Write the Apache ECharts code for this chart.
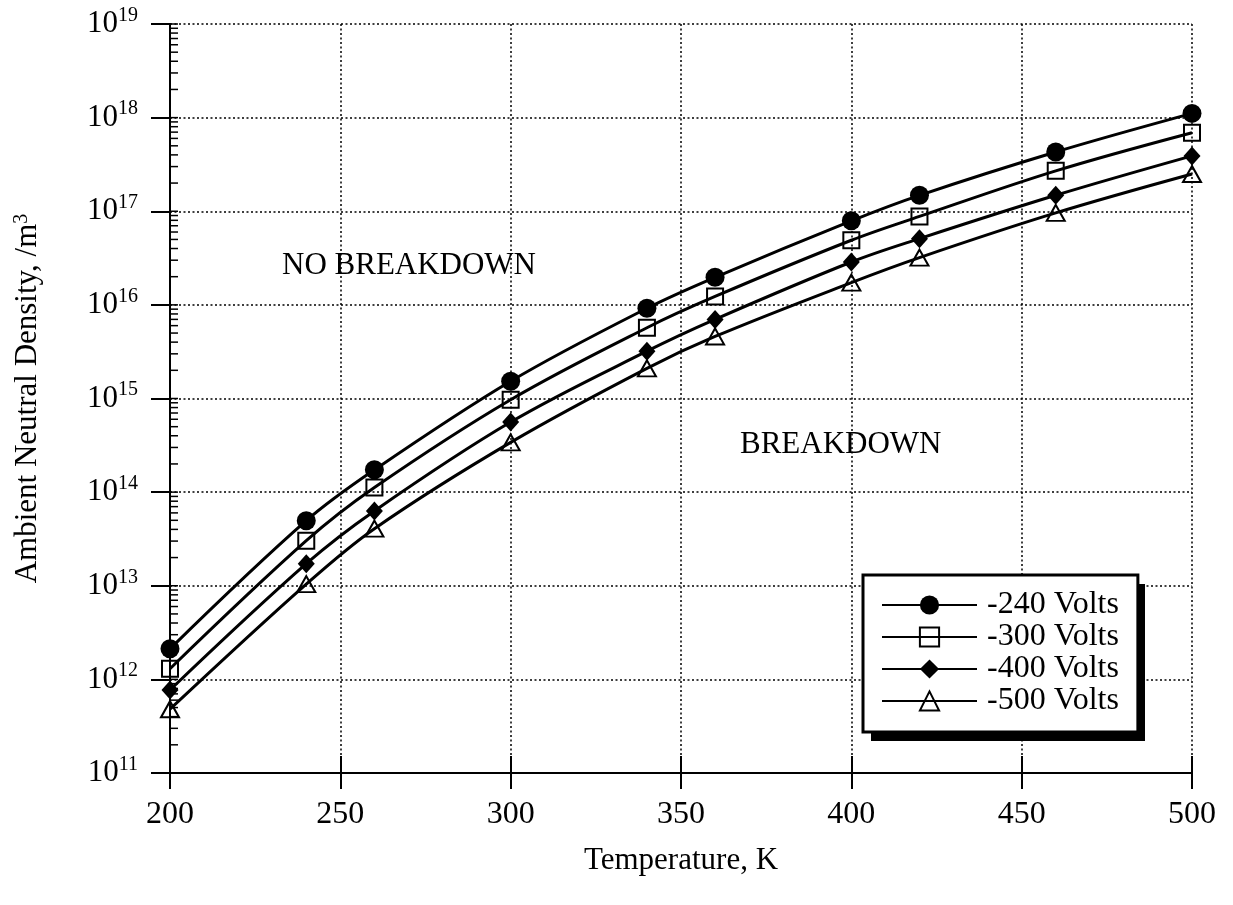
<!DOCTYPE html>
<html>
<head>
<meta charset="utf-8">
<script src="https://cdn.jsdelivr.net/npm/echarts@6/dist/echarts.min.js"></script>
<style>
html,body{margin:0;padding:0;background:#fff;}
#chart{width:1233px;height:905px;}
</style>
</head>
<body>
<div id="chart"></div>
<script>
// ---- data ----
const temperatures = [200, 240, 260, 300, 340, 360, 400, 420, 460, 500];
const seriesNames = ['-240 Volts', '-300 Volts', '-400 Volts', '-500 Volts'];
const v240 = [2.12e12, 4.95e13, 1.73e14, 1.53e15, 9.2e15, 1.97e16, 7.9e16, 1.48e17, 4.3e17, 1.11e18];
const v300 = [1.3e12, 3.03e13, 1.12e14, 9.7e14, 5.7e15, 1.23e16, 4.9e16, 8.8e16, 2.7e17, 6.9e17];
const v400 = [7.7e11, 1.72e13, 6.3e13, 5.6e14, 3.2e15, 7.0e15, 2.87e16, 5.1e16, 1.48e17, 3.9e17];
const v500 = [4.8e11, 1.04e13, 4.07e13, 3.4e14, 2.1e15, 4.6e15, 1.73e16, 3.2e16, 9.6e16, 2.5e17];
const xTickLabels = ['200', '250', '300', '350', '400', '450', '500'];
const yDecades = [11, 12, 13, 14, 15, 16, 17, 18];
const minorMultipliers = [1, 2, 3, 4, 5, 6, 7, 8, 9];
const annotations = ['NO BREAKDOWN', 'BREAKDOWN'];

// ---- build ----
const FONT = '"Liberation Serif", "Times New Roman", serif';
const pairs = arr => temperatures.map((t, i) => [t, arr[i]]);

const minorTickData = [];
yDecades.forEach(d => minorMultipliers.forEach(m => minorTickData.push([200, m * Math.pow(10, d)])));
minorTickData.push([200, Math.pow(10, 19)]);

const chart = echarts.init(document.getElementById('chart'), null, {renderer: 'canvas'});

const lineBase = {
  type: 'line',
  smooth: 0.35,
  clip: false,
  lineStyle: {color: '#000', width: 3},
  xAxisIndex: 0,
  yAxisIndex: 0,
  z: 3
};

const option = {
  backgroundColor: '#fff',
  animation: false,
  textStyle: {fontFamily: FONT, color: '#000'},
  grid: {left: 170, right: 41, top: 24, bottom: 132, containLabel: false},
  xAxis: [{
    type: 'value',
    min: 200, max: 500, interval: 50,
    name: 'Temperature, K',
    nameLocation: 'middle',
    nameGap: 72,
    nameTextStyle: {fontFamily: FONT, fontSize: 31, color: '#000'},
    axisLine: {show: true, lineStyle: {color: '#000', width: 2}},
    axisTick: {show: true, inside: false, length: 16, lineStyle: {color: '#000', width: 2}},
    axisLabel: {
      fontFamily: FONT, fontSize: 32, color: '#000', margin: 26,
      formatter: v => xTickLabels[Math.round((v - 200) / 50)]
    },
    splitLine: {show: true, lineStyle: {color: '#000', width: 1.5, type: [2, 2.5]}}
  }, {
    type: 'value',
    min: 200, max: 500, interval: 50,
    position: 'bottom',
    axisLine: {show: false},
    axisTick: {show: true, inside: true, length: 17, lineStyle: {color: '#000', width: 2}},
    axisLabel: {show: false},
    splitLine: {show: false}
  }],
  yAxis: [{
    type: 'log',
    logBase: 10,
    min: 1e11, max: 1e19, interval: 1,
    name: 'Ambient Neutral Density, /m{s|3}',
    nameLocation: 'middle',
    nameGap: 127,
    nameTextStyle: {
      fontFamily: FONT, fontSize: 31, color: '#000',
      rich: {s: {fontFamily: FONT, fontSize: 20, verticalAlign: 'top', lineHeight: 20}}
    },
    axisLine: {show: true, lineStyle: {color: '#000', width: 2}},
    axisTick: {show: true, inside: false, length: 19, lineStyle: {color: '#000', width: 2}},
    axisLabel: {
      margin: 32,
      formatter: v => '{b|10}{s|' + Math.round(Math.log10(v)) + '}',
      rich: {
        b: {fontFamily: FONT, fontSize: 31, color: '#000', lineHeight: 37},
        s: {fontFamily: FONT, fontSize: 20, color: '#000', lineHeight: 20, verticalAlign: 'top'}
      }
    },
    splitLine: {show: true, lineStyle: {color: '#000', width: 1.5, type: [2, 2.5]}}
  }],
  legend: {
    orient: 'vertical',
    left: 863,
    top: 575,
    z: 6,
    data: seriesNames,
    itemWidth: 95,
    itemHeight: 24,
    itemGap: 0,
    padding: [14, 19, 15, 18],
    backgroundColor: '#fff',
    borderColor: '#000',
    borderWidth: 3,
    textStyle: {fontFamily: FONT, fontSize: 32, color: '#000', padding: [0, 0, 0, 5]}
  },
  graphic: [{
    type: 'rect', z: 5,
    shape: {x: 871, y: 584, width: 274, height: 157},
    style: {fill: '#000'}
  }, {
    type: 'text', x: 282, y: 266, z: 10,
    style: {text: annotations[0], font: '31px ' + FONT, fill: '#000', align: 'left', verticalAlign: 'middle'}
  }, {
    type: 'text', x: 740, y: 445, z: 10,
    style: {text: annotations[1], font: '31px ' + FONT, fill: '#000', align: 'left', verticalAlign: 'middle'}
  }],
  series: [
    Object.assign({}, lineBase, {
      name: seriesNames[0], data: pairs(v240),
      symbol: 'circle', symbolSize: 19,
      itemStyle: {color: '#000', borderColor: '#000', borderWidth: 0}
    }),
    Object.assign({}, lineBase, {
      name: seriesNames[1], data: pairs(v300),
      symbol: 'rect', symbolSize: 16,
      itemStyle: {color: 'rgba(255,255,255,0)', borderColor: '#000', borderWidth: 2}
    }),
    Object.assign({}, lineBase, {
      name: seriesNames[2], data: pairs(v400),
      symbol: 'diamond', symbolSize: [17, 19],
      itemStyle: {color: '#000', borderColor: '#000', borderWidth: 0}
    }),
    Object.assign({}, lineBase, {
      name: seriesNames[3], data: pairs(v500),
      symbol: 'triangle', symbolSize: [18, 16],
      itemStyle: {color: 'rgba(255,255,255,0)', borderColor: '#000', borderWidth: 2}
    }),
    {
      type: 'custom',
      name: 'minorTicks',
      xAxisIndex: 0, yAxisIndex: 0,
      silent: true, clip: false, z: 4,
      data: minorTickData,
      renderItem: (params, api) => {
        const p = api.coord([api.value(0), api.value(1)]);
        return {
          type: 'line',
          shape: {x1: p[0], y1: p[1], x2: p[0] + 8, y2: p[1]},
          style: {stroke: '#000', lineWidth: 1.5}
        };
      }
    }
  ]
};
chart.setOption(option);
</script>
</body>
</html>
